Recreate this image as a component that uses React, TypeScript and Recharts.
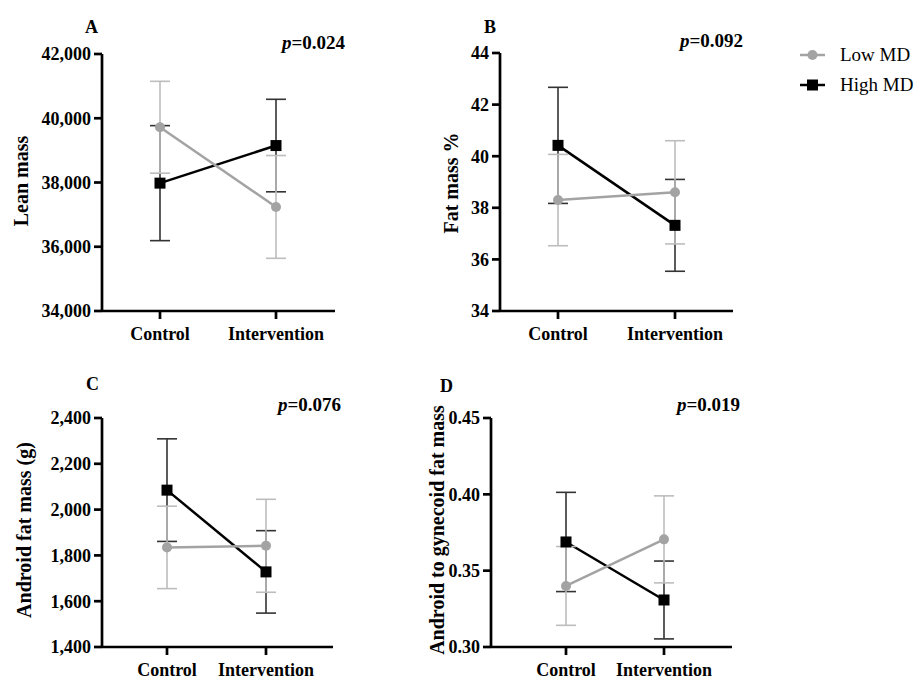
import React from "react";
import { LineChart, Line, XAxis, YAxis, ErrorBar } from "recharts";

const groups = ["Control", "Intervention"];

// A: lean mass
const leanLow = [39720, 37240];
const leanLowErr = [1430, 1600];
const leanHigh = [37980, 39150];
const leanHighErr = [1790, 1440];
const leanTicks = [34000, 36000, 38000, 40000, 42000];

// B: fat mass %
const fatLow = [38.3, 38.6];
const fatLowErr = [1.77, 2.0];
const fatHigh = [40.42, 37.32];
const fatHighErr = [2.25, 1.78];
const fatTicks = [34, 36, 38, 40, 42, 44];

// C: android fat mass (g)
const andLow = [1835, 1842];
const andLowErr = [180, 203];
const andHigh = [2085, 1728];
const andHighErr = [224, 180];
const andTicks = [1400, 1600, 1800, 2000, 2200, 2400];

// D: android to gynecoid ratio
const ratioLow = [0.34, 0.3705];
const ratioLowErr = [0.0258, 0.0285];
const ratioHigh = [0.3688, 0.3308];
const ratioHighErr = [0.0325, 0.0255];
const ratioTicks = [0.3, 0.35, 0.4, 0.45];

const FONT = "'Liberation Serif', 'Times New Roman', serif";
const GRAY = "#a3a3a3";
const GRAY_ERR = "#bdbdbd";

type PanelProps = {
  x0: number;
  x1: number;
  y0: number;
  y1: number;
  padL: number;
  padR: number;
  ticks: number[];
  fmt: (v: number) => string;
  low: number[];
  lowErr: number[];
  high: number[];
  highErr: number[];
};

const Square = (p: any) => {
  if (p.cx == null || p.cy == null) return <g key={`sq-${p.index}`} />;
  return <rect key={`sq-${p.index}`} x={p.cx - 5.5} y={p.cy - 5.5} width={11} height={11} fill="#000" />;
};

function Panel({ x0, x1, y0, y1, padL, padR, ticks, fmt, low, lowErr, high, highErr }: PanelProps) {
  const left = x0 - 100;
  const top = y0 - 15;
  const width = x1 - left + 10;
  const height = y1 - top + 40;
  const rows = groups.map((g, i) => ({
    name: g,
    low: low[i],
    lowErr: lowErr[i],
    high: high[i],
    highErr: highErr[i],
  }));
  const tickStyle = { fill: "#000", fontFamily: FONT, fontWeight: 700, fontSize: 18 };
  return (
    <div style={{ position: "absolute", left, top }}>
      <LineChart width={width} height={height} data={rows} margin={{ top: 15, right: 10, bottom: 4, left: 0 }}>
        <XAxis
          dataKey="name"
          padding={{ left: padL, right: padR }}
          height={36}
          tick={tickStyle}
          tickSize={8}
          tickMargin={8}
          axisLine={{ stroke: "#000", strokeWidth: 2.7 }}
          tickLine={{ stroke: "#000", strokeWidth: 2.7 }}
        />
        <YAxis
          width={100}
          type="number"
          domain={[ticks[0], ticks[ticks.length - 1]]}
          ticks={ticks}
          interval={0}
          tickFormatter={fmt}
          tick={tickStyle}
          tickSize={8}
          tickMargin={3}
          axisLine={{ stroke: "#000", strokeWidth: 2.7 }}
          tickLine={{ stroke: "#000", strokeWidth: 2.7 }}
          allowDataOverflow
        />
        <Line
          dataKey="high"
          stroke="#000"
          strokeWidth={2.5}
          dot={Square}
          activeDot={false}
          isAnimationActive={false}
        >
          <ErrorBar dataKey="highErr" width={10} stroke="#333" strokeWidth={1.6} direction="y" isAnimationActive={false} />
        </Line>
        <Line
          dataKey="low"
          stroke={GRAY}
          strokeWidth={2.5}
          dot={{ r: 5, fill: GRAY, stroke: GRAY, strokeWidth: 0 }}
          activeDot={false}
          isAnimationActive={false}
        >
          <ErrorBar dataKey="lowErr" width={10} stroke={GRAY_ERR} strokeWidth={1.6} direction="y" isAnimationActive={false} />
        </Line>
      </LineChart>
    </div>
  );
}

const txt = (left: number, top: number, children: React.ReactNode, extra: React.CSSProperties = {}) => (
  <div
    style={{
      position: "absolute",
      left,
      top,
      fontFamily: FONT,
      fontWeight: 700,
      color: "#000",
      whiteSpace: "nowrap",
      lineHeight: 1,
      ...extra,
    }}
  >
    {children}
  </div>
);

const yLabel = (cx: number, cy: number, text: string) => (
  <div
    style={{
      position: "absolute",
      left: cx,
      top: cy,
      transform: "translate(-50%, -50%) rotate(-90deg)",
      fontFamily: FONT,
      fontWeight: 700,
      fontSize: 20,
      whiteSpace: "nowrap",
      lineHeight: 1,
    }}
  >
    {text}
  </div>
);

const pVal = (left: number, top: number, v: string) =>
  txt(left, top, (
    <>
      <i>p</i>={v}
    </>
  ), { fontSize: 19 });

const thousands = (v: number) => v.toLocaleString("en-US");

export default function App() {
  return (
    <div style={{ position: "absolute", left: 0, top: 0, width: 919, height: 680, background: "#fff", overflow: "hidden" }}>
      <Panel x0={102} x1={335} y0={54} y1={311} padL={58} padR={59} ticks={leanTicks} fmt={thousands}
        low={leanLow} lowErr={leanLowErr} high={leanHigh} highErr={leanHighErr} />
      <Panel x0={500} x1={733} y0={53} y1={311} padL={58} padR={58} ticks={fatTicks} fmt={(v) => String(v)}
        low={fatLow} lowErr={fatLowErr} high={fatHigh} highErr={fatHighErr} />
      <Panel x0={102} x1={333} y0={418} y1={647} padL={65} padR={67} ticks={andTicks} fmt={thousands}
        low={andLow} lowErr={andLowErr} high={andHigh} highErr={andHighErr} />
      <Panel x0={491} x1={732} y0={418} y1={647} padL={75} padR={68} ticks={ratioTicks} fmt={(v) => v.toFixed(2)}
        low={ratioLow} lowErr={ratioLowErr} high={ratioHigh} highErr={ratioHighErr} />

      {txt(85, 18, "A", { fontSize: 18 })}
      {txt(484, 18, "B", { fontSize: 18 })}
      {txt(86, 375, "C", { fontSize: 18 })}
      {txt(440, 377, "D", { fontSize: 18 })}

      {pVal(282, 33, "0.024")}
      {pVal(680, 31, "0.092")}
      {pVal(278, 395, "0.076")}
      {pVal(677, 395, "0.019")}

      {yLabel(21, 181, "Lean mass")}
      {yLabel(451, 183, "Fat mass %")}
      {yLabel(24, 530, "Android fat mass (g)")}
      {yLabel(437, 530, "Android to gynecoid fat mass")}

      <svg style={{ position: "absolute", left: 798, top: 44 }} width={30} height={52}>
        <line x1={2} y1={11} x2={27} y2={11} stroke={GRAY} strokeWidth={2.5} />
        <circle cx={14.5} cy={11} r={5} fill={GRAY} />
        <line x1={2} y1={41} x2={27} y2={41} stroke="#000" strokeWidth={2.5} />
        <rect x={9} y={35.5} width={11} height={11} fill="#000" />
      </svg>
      {txt(840, 45, "Low MD", { fontSize: 19, fontWeight: 400 })}
      {txt(840, 75, "High MD", { fontSize: 19, fontWeight: 400 })}
    </div>
  );
}
